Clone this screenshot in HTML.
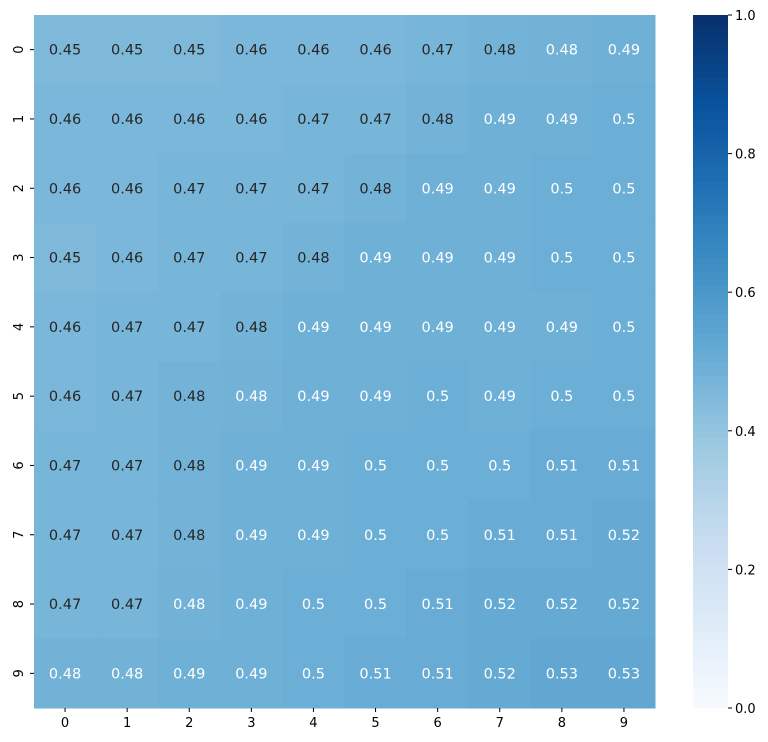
<!DOCTYPE html>
<html><head><meta charset="utf-8">
<style>body{margin:0;background:#fff}svg{display:block;font-family:"DejaVu Sans","Liberation Sans",sans-serif}</style>
</head><body>
<svg id="chart" width="768" height="742" viewBox="0 0 768 742"></svg>
<script>
const rowLabels = ["0","1","2","3","4","5","6","7","8","9"];
const colLabels = ["0","1","2","3","4","5","6","7","8","9"];
const values = [
 [0.45,0.45,0.45,0.46,0.46,0.46,0.47,0.478,0.483,0.49],
 [0.46,0.46,0.46,0.46,0.47,0.47,0.478,0.49,0.49,0.50],
 [0.46,0.46,0.47,0.47,0.47,0.478,0.49,0.49,0.50,0.50],
 [0.45,0.46,0.47,0.47,0.478,0.49,0.49,0.49,0.50,0.50],
 [0.46,0.47,0.47,0.478,0.49,0.49,0.49,0.49,0.49,0.50],
 [0.46,0.47,0.478,0.483,0.49,0.49,0.50,0.49,0.50,0.50],
 [0.47,0.47,0.478,0.49,0.49,0.50,0.50,0.50,0.51,0.51],
 [0.47,0.47,0.478,0.49,0.49,0.50,0.50,0.51,0.51,0.52],
 [0.47,0.47,0.483,0.49,0.50,0.50,0.51,0.52,0.52,0.52],
 [0.483,0.483,0.49,0.49,0.50,0.51,0.51,0.52,0.53,0.53]
];
const cbarTicks = [0,0.2,0.4,0.6,0.8,1.0];
const cbarLabels = ["0.0","0.2","0.4","0.6","0.8","1.0"];

const NS="http://www.w3.org/2000/svg";
const svg=document.getElementById('chart');
const X0=34,Y0=15,W=621,H=693,CX=693,CW=35;
const stops=["#f7fbff","#deebf7","#c6dbef","#9ecae1","#6baed6","#4292c6","#2171b5","#08519c","#08306b"];
function hex(h){return [1,3,5].map(i=>parseInt(h.substr(i,2),16));}
function cmap(v){v=Math.max(0,Math.min(1,v));const p=v*8,i=Math.min(7,Math.floor(p)),t=p-i;
 const a=hex(stops[i]),b=hex(stops[i+1]);return "rgb("+a.map((c,k)=>Math.round(c+(b[k]-c)*t)).join(",")+")";}
const cw=W/colLabels.length,ch=H/rowLabels.length;
const xs=j=>X0+j*cw, ys=i=>Y0+i*ch;
function el(tag,attrs,text){const e=document.createElementNS(NS,tag);for(const k in attrs)e.setAttribute(k,attrs[k]);if(text!==undefined)e.textContent=text;svg.appendChild(e);return e;}
function fmt(v){let s=v.toFixed(2);if(s.endsWith("0"))s=s.slice(0,-1);return s;}
values.forEach((row,i)=>row.forEach((v,j)=>{
 const r=el('rect',{x:xs(j),y:ys(i),width:cw+0.5,height:ch+0.5,fill:cmap(v)});
 
 
 const t=el('text',{x:xs(j)+cw/2,y:ys(i)+ch/2+5,'text-anchor':'middle','font-size':14.5,fill:v<0.481?'#262626':'#ffffff'},fmt(v));
 
 
}));
colLabels.forEach((l,j)=>{
 el('line',{x1:xs(j)+cw/2,x2:xs(j)+cw/2,y1:Y0+H,y2:Y0+H+4,stroke:'#000'});
 const t=el('text',{x:xs(j)+cw/2,y:Y0+H+19,'text-anchor':'middle','font-size':13},l);
 
 
});
rowLabels.forEach((l,i)=>{
 const y=ys(i)+ch/2;
 el('line',{x1:X0-4,x2:X0,y1:y,y2:y,stroke:'#000'});
 const t=el('text',{x:18,y:y,'text-anchor':'middle','font-size':13,transform:`rotate(-90 18 ${y})`,dy:5},l);
 
 
});
const N=100;
for(let k=0;k<N;k++){
 const r=el('rect',{x:CX,y:Y0+H-(k+1)*H/N,width:CW,height:H/N+0.6,fill:cmap((k+0.5)/N)});
 
 
}
cbarTicks.forEach((v,k)=>{
 const y=Y0+H-v*H;
 el('line',{x1:CX+CW,x2:CX+CW+4,y1:y,y2:y,stroke:'#000'});
 const t=el('text',{x:CX+CW+7,y:y+5,'font-size':13},cbarLabels[k]);
 
 
});
</script>
</body></html>
